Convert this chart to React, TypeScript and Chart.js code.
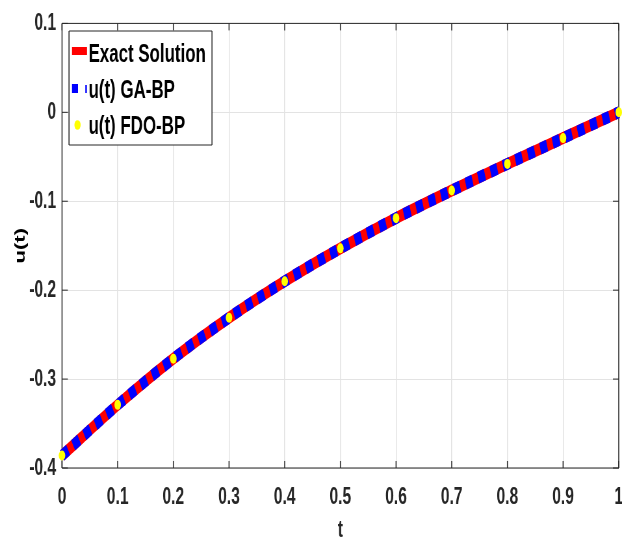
import React, { useEffect, useRef } from 'react';
import { Chart, registerables } from 'chart.js';

Chart.register(...registerables);

// ---- data ----
const tValues = [0, 0.1, 0.2, 0.3, 0.4, 0.5, 0.6, 0.7, 0.8, 0.9, 1];
const exactSolution = [-0.386, -0.329, -0.277, -0.231, -0.19, -0.153, -0.119, -0.088, -0.058, -0.029, 0];
const gaBpValues = [-0.386, -0.329, -0.277, -0.231, -0.19, -0.153, -0.119, -0.088, -0.058, -0.029, 0];
const fdoBpValues = [-0.386, -0.329, -0.277, -0.231, -0.19, -0.153, -0.119, -0.088, -0.058, -0.029, 0];
const legendLabels = ['Exact Solution', 'u(t) GA-BP', 'u(t) FDO-BP'];
const xTitle = 't';
const yTitle = 'u(t)';
const xRange = [0, 1];
const yRange = [-0.4, 0.1];
const tickStep = 0.1;

// ---- layout ----
const DISPLAY_W = 622;
const H = 542;
const SQ = 0.65; // horizontal squeeze of the reference
const W = Math.round(DISPLAY_W / SQ);
const X = (d: number) => d / SQ;
const FONT = "'Liberation Sans', Arial, Helvetica, sans-serif";
const AXIS_COLOR = '#262626';

const fmt = (v: number) => String(Math.round(v * 10) / 10);

const framePlugin = {
  id: 'frame',
  beforeDatasetsDraw(chart: any) {
    const { ctx, chartArea: a, scales } = chart;
    ctx.save();
    ctx.strokeStyle = AXIS_COLOR;
    const seg = (x1: number, y1: number, x2: number, y2: number, w: number) => {
      ctx.lineWidth = w;
      ctx.beginPath();
      ctx.moveTo(x1, y1);
      ctx.lineTo(x2, y2);
      ctx.stroke();
    };
    scales.x.ticks.forEach((t: any) => {
      const px = scales.x.getPixelForValue(t.value);
      seg(px, a.bottom, px, a.bottom - 7, 1.5);
      seg(px, a.top, px, a.top + 7, 1.5);
    });
    scales.y.ticks.forEach((t: any) => {
      const py = scales.y.getPixelForValue(t.value);
      seg(a.left, py, a.left + 9, py, 1);
      seg(a.right, py, a.right - 9, py, 1);
    });
    seg(a.left, a.top, a.right, a.top, 1);
    seg(a.left, a.bottom, a.right, a.bottom, 1);
    seg(a.left, a.top, a.left, a.bottom, 1.5);
    seg(a.right, a.top, a.right, a.bottom, 1.5);
    ctx.restore();
  },
  afterDraw(chart: any) {
    const { ctx } = chart;
    ctx.save();
    const left = X(69), right = X(212), top = 31, bottom = 145;
    ctx.fillStyle = '#ffffff';
    ctx.fillRect(left, top, right - left, bottom - top);
    ctx.strokeStyle = AXIS_COLOR;
    ctx.lineWidth = 1;
    ctx.beginPath();
    ctx.moveTo(left, top); ctx.lineTo(right, top);
    ctx.moveTo(left, bottom); ctx.lineTo(right, bottom);
    ctx.stroke();
    ctx.lineWidth = 1.5;
    ctx.beginPath();
    ctx.moveTo(left, top); ctx.lineTo(left, bottom);
    ctx.moveTo(right, top); ctx.lineTo(right, bottom);
    ctx.stroke();

    // swatches
    ctx.fillStyle = '#ff0000';
    ctx.fillRect(X(72), 47, X(87) - X(72), 8);
    ctx.fillStyle = '#0000ff';
    ctx.fillRect(X(72), 84, X(78) - X(72), 9);
    ctx.fillRect(X(85.3), 85, 2.4, 8);
    ctx.fillStyle = '#ffff00';
    ctx.beginPath();
    ctx.arc(X(77.5), 125, 4.8, 0, Math.PI * 2);
    ctx.fill();

    ctx.fillStyle = '#000000';
    ctx.font = `bold 26px ${FONT}`;
    ctx.textBaseline = 'alphabetic';
    ctx.textAlign = 'left';
    const baselines = [62, 98, 134];
    legendLabels.forEach((lab, i) => ctx.fillText(lab, X(88.5), baselines[i]));
    ctx.restore();
  },
};

export default function App() {
  const ref = useRef<HTMLCanvasElement | null>(null);
  useEffect(() => {
    if (!ref.current) return;
    const pts = (ys: number[]) => tValues.map((t, i) => ({ x: t, y: ys[i] }));
    const chart = new Chart(ref.current, {
      type: 'line',
      data: {
        datasets: [
          {
            label: legendLabels[2],
            data: pts(fdoBpValues),
            showLine: false,
            pointRadius: 5,
            pointBackgroundColor: '#ffff00',
            pointBorderWidth: 0,
            pointBorderColor: '#ffff00',
            order: 1,
            clip: false,
          } as any,
          {
            label: legendLabels[1],
            data: pts(gaBpValues),
            borderColor: '#0000ff',
            borderWidth: 12,
            borderDash: [11, 9],
            borderCapStyle: 'butt',
            cubicInterpolationMode: 'monotone',
            pointRadius: 0,
            order: 2,
            clip: false,
          } as any,
          {
            label: legendLabels[0],
            data: pts(exactSolution),
            borderColor: '#ff0000',
            borderWidth: 12,
            borderCapStyle: 'butt',
            cubicInterpolationMode: 'monotone',
            pointRadius: 0,
            order: 3,
            clip: false,
          } as any,
        ],
      },
      options: {
        responsive: false,
        animation: false,
        devicePixelRatio: 1,
        layout: { padding: { top: 20, right: 3, left: 0, bottom: 0 } },
        plugins: {
          legend: { display: false },
          tooltip: { enabled: false },
        },
        scales: {
          x: {
            type: 'linear',
            min: xRange[0],
            max: xRange[1],
            ticks: {
              stepSize: tickStep,
              callback: (v: any) => fmt(Number(v)),
              color: AXIS_COLOR,
              font: { family: FONT, size: 24, weight: 'bold' },
              padding: 15,
              maxRotation: 0,
              autoSkip: false,
            },
            grid: { color: '#e3e3e3', lineWidth: 1.5, drawTicks: false },
            border: { display: false },
            title: {
              display: true,
              text: xTitle,
              color: AXIS_COLOR,
              font: { family: FONT, size: 24, weight: 'bold', lineHeight: 1 },
              padding: { top: 0, bottom: 0 },
            },
            afterFit: (s: any) => {
              s.height = H - 468;
              s.paddingRight = 3;
            },
          },
          y: {
            type: 'linear',
            min: yRange[0],
            max: yRange[1],
            ticks: {
              stepSize: tickStep,
              callback: (v: any) => fmt(Number(v)),
              color: AXIS_COLOR,
              font: { family: FONT, size: 24, weight: 'bold' },
              padding: 9,
              autoSkip: false,
            },
            grid: { color: '#e3e3e3', lineWidth: 1, drawTicks: false },
            border: { display: false },
            title: {
              display: true,
              text: yTitle,
              color: '#000000',
              font: { family: FONT, size: 22, weight: 'bold', lineHeight: 1 },
              padding: { top: 21, bottom: 0 },
            },
            afterFit: (s: any) => {
              s.width = X(62);
            },
          },
        },
      } as any,
      plugins: [framePlugin],
    });
    return () => chart.destroy();
  }, []);

  return (
    <div style={{ position: 'absolute', left: 0, top: 0, width: DISPLAY_W, height: H, background: '#fff' }}>
      <canvas ref={ref} width={W} height={H} style={{ width: DISPLAY_W + 'px', height: H + 'px', display: 'block' }} />
    </div>
  );
}
